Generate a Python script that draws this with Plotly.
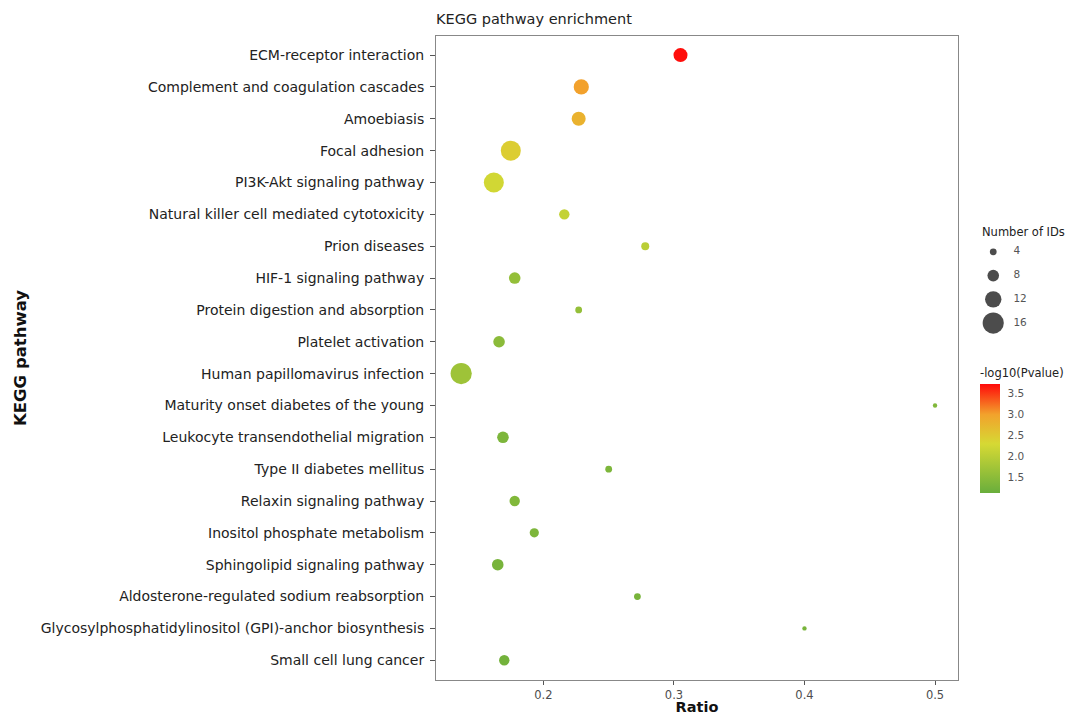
import plotly.graph_objects as go

# KEGG pathway enrichment results
pathways = [
    "ECM-receptor interaction",
    "Complement and coagulation cascades",
    "Amoebiasis",
    "Focal adhesion",
    "PI3K-Akt signaling pathway",
    "Natural killer cell mediated cytotoxicity",
    "Prion diseases",
    "HIF-1 signaling pathway",
    "Protein digestion and absorption",
    "Platelet activation",
    "Human papillomavirus infection",
    "Maturity onset diabetes of the young",
    "Leukocyte transendothelial migration",
    "Type II diabetes mellitus",
    "Relaxin signaling pathway",
    "Inositol phosphate metabolism",
    "Sphingolipid signaling pathway",
    "Aldosterone-regulated sodium reabsorption",
    "Glycosylphosphatidylinositol (GPI)-anchor biosynthesis",
    "Small cell lung cancer",
]
ratio = [0.305, 0.229, 0.227, 0.175, 0.162, 0.216, 0.278, 0.178, 0.227, 0.166,
         0.137, 0.500, 0.169, 0.250, 0.178, 0.193, 0.165, 0.272, 0.400, 0.170]
num_ids = [10, 11, 10, 15, 15, 7, 5, 8, 4, 8,
           16, 2, 8, 4, 7, 6, 8, 4, 2, 7]
neg_log10_p = [3.70, 3.00, 2.80, 2.45, 2.25, 2.10, 2.00, 1.60, 1.60, 1.50,
               1.70, 1.40, 1.35, 1.35, 1.40, 1.35, 1.30, 1.30, 1.30, 1.25]

legend_counts = [4, 8, 12, 16]
cbar_ticks = [1.5, 2.0, 2.5, 3.0, 3.5]

W, H = 1071, 715
L, T, B = 436, 36, 35
PLOT_R = 958          # right edge of the main panel
plot_w = W - L
plot_h = H - T - B


def px_x(px):
    return (px - L) / plot_w


def px_y(py):
    return (H - B - py) / plot_h


def dot_size(n):
    # marker diameter grows linearly with the number of IDs
    return 2.0 + 1.2 * n


colorscale = [
    [0.0, "#69ae3c"],
    [0.45, "#d6d934"],
    [0.72, "#f2a22c"],
    [1.0, "#ff0a0a"],
]
font_family = "DejaVu Sans, Verdana, sans-serif"

fig = go.Figure()

fig.add_trace(go.Scatter(
    x=ratio,
    y=pathways,
    mode="markers",
    marker=dict(
        size=[dot_size(n) for n in num_ids],
        sizemode="diameter",
        color=neg_log10_p,
        colorscale=colorscale,
        cmin=1.14,
        cmax=3.72,
        line=dict(width=0),
        opacity=1,
        colorbar=dict(
            title=dict(text="-log10(Pvalue)", side="top",
                       font=dict(size=11.5, color="#222", family=font_family)),
            x=px_x(980), xanchor="left", xpad=0,
            y=px_y(493), yanchor="bottom", ypad=0,
            len=128, lenmode="pixels",
            thickness=20, thicknessmode="pixels",
            outlinewidth=0,
            tickvals=cbar_ticks,
            ticktext=[f"{v:.1f}" for v in cbar_ticks],
            ticks="outside", ticklen=6, tickcolor="rgba(0,0,0,0)",
            tickfont=dict(size=10.5, color="#555", family=font_family),
        ),
    ),
    showlegend=False,
    xaxis="x", yaxis="y",
))

# size key drawn on its own small axis pair in the right margin
fig.add_trace(go.Scatter(
    x=[0.19] * len(legend_counts),
    y=list(range(len(legend_counts))),
    mode="markers",
    marker=dict(size=[dot_size(n) for n in legend_counts], sizemode="diameter",
                color="black", line=dict(width=0)),
    showlegend=False, hoverinfo="skip",
    xaxis="x2", yaxis="y2",
))
fig.add_trace(go.Scatter(
    x=[0.4] * len(legend_counts),
    y=list(range(len(legend_counts))),
    mode="text",
    text=[str(n) for n in legend_counts],
    textposition="middle right",
    textfont=dict(size=10.5, color="#555", family=font_family),
    showlegend=False, hoverinfo="skip",
    xaxis="x2", yaxis="y2",
))

fig.update_layout(
    width=W, height=H,
    margin=dict(l=L, r=0, t=T, b=B),
    paper_bgcolor="white",
    plot_bgcolor="white",
    font=dict(family=font_family, color="#333"),
    title=dict(
        text="KEGG pathway enrichment",
        x=px_x(436), xanchor="left", xref="paper",
        y=1 - 19 / H, yanchor="middle",
        font=dict(size=14.5, color="#222", family=font_family),
    ),
    xaxis=dict(
        domain=[0, px_x(PLOT_R)],
        range=[0.1177, 0.5176],
        tickvals=[0.2, 0.3, 0.4, 0.5],
        ticktext=["0.2", "0.3", "0.4", "0.5"],
        ticks="outside", ticklen=4, tickcolor="#555", tickwidth=1,
        tickfont=dict(size=11.5, color="#4d4d4d"),
        showgrid=False, zeroline=False,
        showline=True, linecolor="#888", linewidth=1, mirror=True,
        title=dict(text="<b>Ratio</b>", standoff=3,
                   font=dict(size=14.5, color="#111")),
    ),
    yaxis=dict(
        type="category",
        categoryorder="array",
        categoryarray=pathways,
        range=[19.62, -0.6],
        ticks="outside", ticklen=5, tickcolor="#555", tickwidth=1,
        ticklabelstandoff=3,
        tickfont=dict(size=14, color="#222"),
        showgrid=False, zeroline=False,
        showline=True, linecolor="#888", linewidth=1, mirror=True,
    ),
    xaxis2=dict(domain=[px_x(975), 1.0], range=[0, 1], visible=False,
                anchor="y2", fixedrange=True),
    yaxis2=dict(domain=[px_y(335), px_y(240)], range=[3.5, -0.5],
                visible=False, anchor="x2", fixedrange=True),
    annotations=[
        dict(text="<b>KEGG pathway</b>", textangle=-90,
             x=px_x(20), y=0.5, xref="paper", yref="paper",
             xanchor="center", yanchor="middle", showarrow=False,
             font=dict(size=16.5, color="#111")),
        dict(text="Number of IDs",
             x=px_x(980), y=px_y(232), xref="paper", yref="paper",
             xanchor="left", yanchor="middle", showarrow=False,
             font=dict(size=11.5, color="#222")),
    ],
)

fig.write_html("out.html")
